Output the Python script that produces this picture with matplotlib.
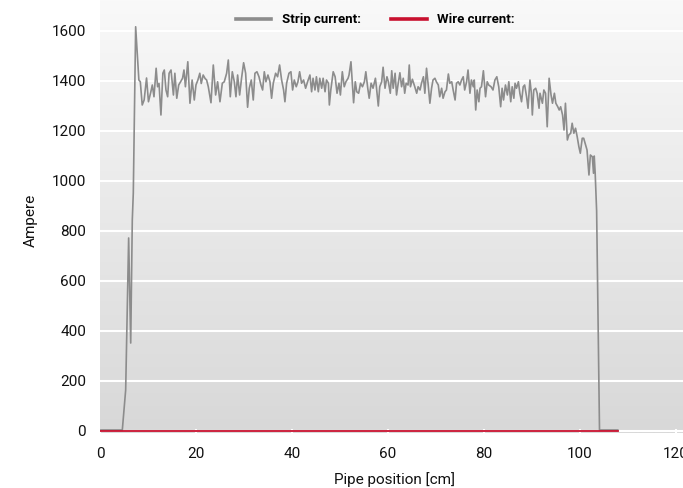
import matplotlib
matplotlib.use("Agg")
import matplotlib.pyplot as plt
import numpy as np
from matplotlib.colors import LinearSegmentedColormap

# strip current (pipe position in cm, current in A)
pipe_pos = [
    0.0, 4.65, 5.35, 5.97, 6.4, 6.73, 6.94, 7.43,
    8.1, 8.4, 8.8, 9.2, 9.7, 10.1, 10.6, 10.9, 11.25, 11.7, 12.0, 12.3, 12.7,
    13.1, 13.4, 13.75, 14.1, 14.4, 14.8, 15.3, 15.6, 16.0, 16.4, 16.8, 17.2,
    17.5, 17.8, 18.3, 18.75, 19.2, 19.65, 20.0, 20.4, 20.8, 21.1, 21.5,
    21.9, 22.22, 22.57, 23.13, 23.61, 24.1, 24.51, 25.0, 25.49, 25.9, 26.39,
    26.74, 27.15, 27.57, 27.99, 28.33, 28.68, 29.1, 29.5, 29.93, 30.35, 30.76,
    31.11, 31.53, 31.94, 32.29, 32.71, 33.13, 33.54, 33.89, 34.24, 34.58, 35.0,
    35.42, 35.76, 36.11, 36.6, 37.01, 37.43, 37.85, 38.26, 38.54, 38.89, 39.38,
    39.79, 40.14, 40.49, 40.9, 41.25, 41.6, 42.01, 42.43, 42.85, 43.26,
    43.75, 44.1, 44.4, 44.8, 45.1, 45.5, 45.8, 46.2, 46.5, 46.9, 47.2, 47.6,
    47.8, 48.1, 48.6, 49.0, 49.4, 49.8, 50.1, 50.5, 50.9, 51.25, 51.7, 51.9,
    52.3, 52.6, 52.85, 53.2, 53.5, 53.9, 54.3, 54.7, 55.1, 55.4, 55.8, 56.1,
    56.5, 56.9, 57.4, 57.6, 58.0, 58.3, 58.7, 59.0, 59.4, 59.8, 60.1, 60.5,
    60.8, 61.1, 61.5, 61.8, 62.15, 62.5, 62.85, 63.2, 63.5, 63.8, 64.2, 64.45,
    64.7, 65.1,
    65.6, 66.0, 66.3, 66.7, 67.0, 67.4, 67.7, 68.05, 68.4, 68.75, 69.1, 69.4,
    69.8, 70.1, 70.5, 70.8, 71.2, 71.5, 71.9, 72.2, 72.6, 72.9, 73.3, 73.6,
    74.0, 74.3, 74.65, 75.0, 75.35, 75.7, 76.0, 76.4, 76.7, 77.1, 77.4, 77.8,
    78.0, 78.3, 78.6, 78.96, 79.2, 79.5, 79.9, 80.35, 80.7, 81.0, 81.5, 81.9,
    82.3, 82.7, 83.1, 83.5, 83.8, 84.1, 84.5, 84.9, 85.2, 85.6, 85.9, 86.25,
    86.5, 86.8, 87.2, 87.5, 87.85, 88.2, 88.5, 88.9, 89.2, 89.6, 89.9, 90.1,
    90.4, 90.8, 91.1, 91.5, 91.7, 92.2, 92.5, 92.85, 93.2, 93.6, 94.0, 94.3,
    94.7, 95.0, 95.4, 95.7, 96.0, 96.4, 96.7, 97.0, 97.4, 97.7, 98.1, 98.4,
    98.75, 99.1, 99.45, 99.8, 100.1, 100.5, 100.8, 101.2, 101.5, 101.9, 102.2,
    102.6, 102.85, 103.0, 103.2, 103.5, 104.1, 107.9,
]
strip_current = [
    4, 4, 164, 772, 352, 844, 952, 1617,
    1404, 1397, 1304, 1324, 1412, 1317, 1357, 1384, 1337, 1451, 1377, 1390, 1264,
    1431, 1444, 1364, 1337, 1431, 1444, 1344, 1431, 1331, 1384, 1397, 1411,
    1444, 1377, 1477, 1311, 1404, 1324, 1384, 1404, 1431, 1390, 1424,
    1410, 1404, 1377, 1313, 1464, 1344, 1397, 1317, 1391, 1397, 1431,
    1484, 1337, 1437, 1397, 1337, 1424, 1344, 1411, 1473, 1431, 1295,
    1371, 1404, 1324, 1431, 1437, 1417, 1384, 1364, 1437, 1397, 1424,
    1397, 1331, 1391, 1431, 1417, 1464, 1404, 1364, 1317, 1391, 1431,
    1437, 1364, 1404, 1377, 1397, 1437, 1391, 1404, 1371, 1397,
    1424, 1357, 1411, 1364, 1417, 1357, 1411, 1371, 1411, 1357, 1404, 1391,
    1304, 1364, 1437, 1417, 1351, 1391, 1344, 1437, 1377, 1397, 1411, 1424,
    1477, 1391, 1313, 1397, 1357, 1351, 1391, 1377, 1397, 1437, 1371, 1331,
    1391, 1371, 1411, 1377, 1300, 1377, 1397, 1455, 1371, 1417, 1397, 1351,
    1441, 1371, 1431, 1344, 1391, 1433, 1377, 1411, 1351, 1391, 1384, 1464,
    1377, 1407,
    1377, 1351, 1377, 1364, 1391, 1417, 1351, 1451, 1384, 1311, 1371, 1404,
    1411, 1397, 1384, 1337, 1371, 1331, 1357, 1364, 1428, 1391, 1397, 1364,
    1324, 1391, 1397, 1384, 1404, 1417, 1364, 1397, 1444, 1351, 1404, 1377,
    1404, 1284, 1364, 1317, 1371, 1377, 1441, 1337, 1397, 1384, 1377, 1364,
    1404, 1417, 1377, 1297, 1371, 1324, 1384, 1344, 1397, 1317, 1377, 1331,
    1391, 1371, 1397, 1351, 1317, 1377, 1384, 1337, 1291, 1404, 1351, 1264,
    1364, 1371, 1351, 1291, 1351, 1311, 1364, 1351, 1217, 1411, 1344, 1311,
    1351, 1311, 1297, 1284, 1297, 1264, 1204, 1311, 1164, 1184, 1191, 1231,
    1191, 1211, 1177, 1137, 1111, 1171, 1171, 1144, 1124, 1024, 1104,
    1097, 1031, 1100, 1030, 880, 4, 4,
]

# wire current stays at zero over the whole pipe
wire_pos = [0.0, 107.9]
wire_current = [0, 0]

y_ticks = [0, 200, 400, 600, 800, 1000, 1200, 1400, 1600]
x_ticks = [0, 20, 40, 60, 80, 100, 120]

tick_font = ["Roboto", "DejaVu Sans"]


def main():
    fig = plt.figure(figsize=(6.83, 4.88), dpi=100)
    ax = fig.add_axes([100 / 683, 55 / 488, 583 / 683, 433 / 488])

    # grey vertical gradient behind the plot
    cmap = LinearSegmentedColormap.from_list("bg", ["#d8d8d8", "#f9f9f9"])
    grad = np.linspace(0, 1, 256).reshape(-1, 1)
    ax.imshow(grad, extent=[0, 1, 0, 1], transform=ax.transAxes,
              aspect="auto", cmap=cmap, origin="lower", zorder=0)

    ax.plot(pipe_pos, strip_current, color="#8c8c8c", lw=1.2,
            label="Strip current:", zorder=3)
    ax.plot(wire_pos, wire_current, color="#c8102e", lw=1.3,
            label="Wire current:", zorder=4)

    ax.set_xlim(0, 121.5)
    ax.set_ylim(-8, 1724)
    ax.set_xticks(x_ticks)
    ax.set_yticks(y_ticks)

    ax.set_axisbelow(True)
    ax.grid(axis="y", color="white", lw=1.5)
    for s in ax.spines.values():
        s.set_visible(False)

    ax.tick_params(axis="y", length=0, pad=10, labelsize=11, labelcolor="#111111")
    ax.tick_params(axis="x", direction="in", length=3, width=1.5,
                   color="white", pad=10, labelsize=11, labelcolor="#111111")
    for lab in ax.get_xticklabels() + ax.get_yticklabels():
        lab.set_family(tick_font)

    ax.set_xlabel("Pipe position [cm]", family=tick_font, fontsize=11,
                  color="#111111", va="center")
    ax.xaxis.set_label_coords(0.505, -0.108)
    ax.set_ylabel("Ampere", family=tick_font, fontsize=11,
                  color="#111111", va="center")
    ax.yaxis.set_label_coords(-0.118, 0.49)

    leg = ax.legend(loc="center", bbox_to_anchor=(0.472, 0.954), ncol=2,
                    frameon=False, handlelength=2.7, handletextpad=0.8,
                    columnspacing=2.3,
                    prop={"family": tick_font, "weight": "bold", "size": 9.5})
    for line in leg.get_lines():
        line.set_linewidth(2.6)

    fig.savefig("out.png", dpi=100)


if __name__ == "__main__":
    main()
